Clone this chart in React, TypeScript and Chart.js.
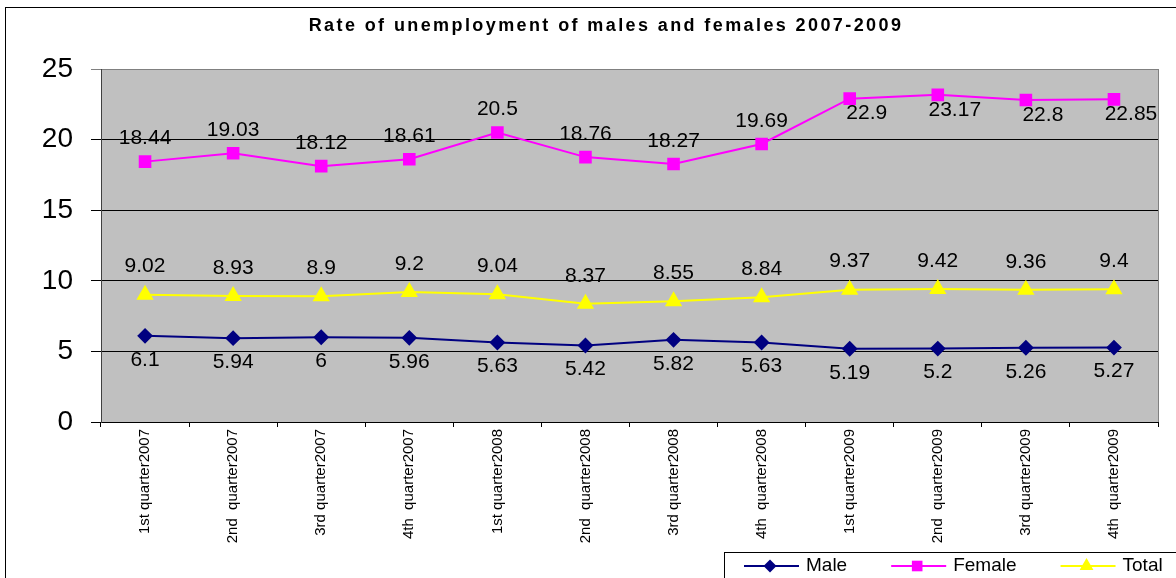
import React, { useEffect, useRef } from 'react';
import { Chart, registerables } from 'chart.js';

Chart.register(...registerables);

const chartTitle = 'Rate of unemployment of males and females 2007-2009';
const categories = [
  '1st quarter2007',
  '2nd  quarter2007',
  '3rd quarter2007',
  '4th  quarter2007',
  '1st quarter2008',
  '2nd  quarter2008',
  '3rd quarter2008',
  '4th  quarter2008',
  '1st quarter2009',
  '2nd  quarter2009',
  '3rd quarter2009',
  '4th  quarter2009',
];
const maleValues = [6.1, 5.94, 6, 5.96, 5.63, 5.42, 5.82, 5.63, 5.19, 5.2, 5.26, 5.27];
const femaleValues = [18.44, 19.03, 18.12, 18.61, 20.5, 18.76, 18.27, 19.69, 22.9, 23.17, 22.8, 22.85];
const totalValues = [9.02, 8.93, 8.9, 9.2, 9.04, 8.37, 8.55, 8.84, 9.37, 9.42, 9.36, 9.4];
const yTickValues = [0, 5, 10, 15, 20, 25];

const FONT = '"Liberation Sans", Arial, sans-serif';

function drawMarker(ctx: CanvasRenderingContext2D, style: string, x: number, y: number, r: number, color: string) {
  ctx.save();
  ctx.fillStyle = color;
  ctx.beginPath();
  if (style === 'rectRot') {
    ctx.moveTo(x - r, y);
    ctx.lineTo(x, y - r);
    ctx.lineTo(x + r, y);
    ctx.lineTo(x, y + r);
  } else if (style === 'rect') {
    const s = Math.SQRT1_2 * r;
    ctx.rect(x - s, y - s, 2 * s, 2 * s);
  } else {
    ctx.moveTo(x, y - r);
    ctx.lineTo(x + r * 0.866, y + r * 0.5);
    ctx.lineTo(x - r * 0.866, y + r * 0.5);
  }
  ctx.closePath();
  ctx.fill();
  ctx.restore();
}

const decorPlugin = {
  id: 'decor',
  beforeDraw(chart: any) {
    const { ctx, chartArea: a } = chart;
    ctx.save();
    ctx.fillStyle = '#ffffff';
    ctx.fillRect(0, 0, chart.width, chart.height);
    ctx.fillStyle = '#C0C0C0';
    ctx.fillRect(a.left, a.top, a.right - a.left, a.bottom - a.top);
    ctx.strokeStyle = '#808080';
    ctx.lineWidth = 1;
    ctx.beginPath();
    ctx.moveTo(a.right + 0.5, a.top);
    ctx.lineTo(a.right + 0.5, a.bottom);
    ctx.stroke();
    // outer chart border
    ctx.strokeStyle = '#000000';
    ctx.strokeRect(5.5, 7.5, chart.width + 20, chart.height + 20);
    // title
    ctx.fillStyle = '#000';
    ctx.font = `bold 18px ${FONT}`;
    (ctx as any).letterSpacing = '2.4px';
    ctx.textAlign = 'center';
    ctx.textBaseline = 'middle';
    ctx.fillText(chartTitle, 606, 26);
    ctx.restore();
  },
  afterDatasetsDraw(chart: any) {
    const { ctx } = chart;
    ctx.save();
    ctx.fillStyle = '#000';
    ctx.font = `21px ${FONT}`;
    ctx.textAlign = 'center';
    ctx.textBaseline = 'middle';
    chart.data.datasets.forEach((ds: any, di: number) => {
      const meta = chart.getDatasetMeta(di);
      meta.data.forEach((pt: any, i: number) => {
        const v = ds.data[i];
        let dx = 0;
        let dy = 0;
        if (ds.label === 'Male') dy = 24;
        else if (ds.label === 'Total') dy = -28;
        else if (v > 22) { dx = 17; dy = 15; }
        else dy = -23;
        ctx.fillText(String(v), pt.x + dx, pt.y + dy);
      });
    });
    ctx.restore();
  },
  afterDraw(chart: any) {
    const { ctx } = chart;
    ctx.save();
    // legend box
    ctx.strokeStyle = '#000';
    ctx.lineWidth = 1;
    ctx.strokeRect(724.5, 552.5, 600, 100);
    ctx.font = `19px ${FONT}`;
    ctx.textBaseline = 'middle';
    ctx.textAlign = 'left';
    let x = 744;
    const y = 566;
    chart.data.datasets.forEach((ds: any) => {
      ctx.strokeStyle = ds.borderColor;
      ctx.lineWidth = 2;
      ctx.beginPath();
      ctx.moveTo(x, y);
      ctx.lineTo(x + 55, y);
      ctx.stroke();
      drawMarker(ctx, ds.pointStyle, x + 26, y, ds.pointRadius, ds.pointBackgroundColor);
      ctx.fillStyle = '#000';
      ctx.fillText(ds.label, x + 62, y);
      x = x + 62 + ctx.measureText(ds.label).width + 44;
    });
    ctx.restore();
  },
};

export default function App() {
  const canvasRef = useRef<HTMLCanvasElement | null>(null);

  useEffect(() => {
    const canvas = canvasRef.current;
    if (!canvas) return;
    const chart = new Chart(canvas, {
      type: 'line',
      data: {
        labels: categories,
        datasets: [
          {
            label: 'Male',
            data: maleValues,
            borderColor: '#000080',
            backgroundColor: '#000080',
            pointBackgroundColor: '#000080',
            pointBorderColor: '#000080',
            pointStyle: 'rectRot',
            pointRadius: 6.5,
            borderWidth: 2,
            tension: 0,
          },
          {
            label: 'Female',
            data: femaleValues,
            borderColor: '#FF00FF',
            backgroundColor: '#FF00FF',
            pointBackgroundColor: '#FF00FF',
            pointBorderColor: '#FF00FF',
            pointStyle: 'rect',
            pointRadius: 7.5,
            borderWidth: 2,
            tension: 0,
          },
          {
            label: 'Total',
            data: totalValues,
            borderColor: '#FFFF00',
            backgroundColor: '#FFFF00',
            pointBackgroundColor: '#FFFF00',
            pointBorderColor: '#FFFF00',
            pointStyle: 'triangle',
            pointRadius: 8,
            borderWidth: 2,
            tension: 0,
          },
        ] as any,
      },
      options: {
        animation: false,
        responsive: false,
        maintainAspectRatio: false,
        layout: { padding: { top: 69, right: 18, left: 0, bottom: 0 } },
        plugins: {
          legend: { display: false },
          title: { display: false },
          tooltip: { enabled: false },
        },
        scales: {
          x: {
            offset: true,
            grid: {
              display: true,
              drawOnChartArea: false,
              drawTicks: true,
              tickLength: 5,
              color: '#000',
              offset: true,
            },
            border: { display: true, color: '#000', width: 1 },
            ticks: {
              autoSkip: false,
              maxRotation: 90,
              minRotation: 90,
              padding: 2,
              color: '#000',
              font: { family: FONT, size: 15 },
            },
            afterFit: (s: any) => { s.height = 156; },
          },
          y: {
            min: 0,
            max: 25,
            afterBuildTicks: (s: any) => { s.ticks = yTickValues.map((v) => ({ value: v })); },
            grid: {
              color: (c: any) => (c.tick && c.tick.value === 25 ? '#808080' : '#000'),
              tickLength: 10,
              drawTicks: true,
              lineWidth: 1,
            },
            border: { display: true, color: '#404040', width: 1 },
            ticks: {
              padding: 18,
              color: '#000',
              font: { family: FONT, size: 28 },
            },
            afterFit: (s: any) => { s.width = 101; },
          },
        } as any,
      },
      plugins: [decorPlugin],
    });
    return () => chart.destroy();
  }, []);

  return (
    <div style={{ position: 'absolute', left: 0, top: 0, width: 1176, height: 578 }}>
      <canvas ref={canvasRef} width={1176} height={578} style={{ display: 'block', width: 1176, height: 578 }} />
    </div>
  );
}
